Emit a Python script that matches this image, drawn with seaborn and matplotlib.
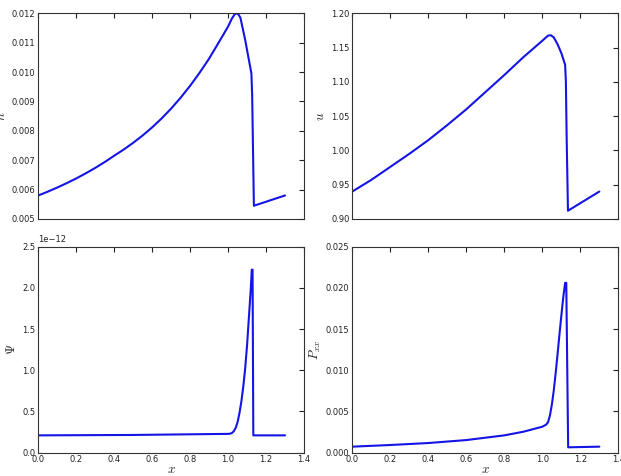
import numpy as np
import pandas as pd
import matplotlib
matplotlib.use("Agg")
import matplotlib.pyplot as plt
import seaborn as sns

# ---- data ----
x_n = [0.0, 0.05, 0.1, 0.15, 0.2, 0.25, 0.3, 0.35, 0.4, 0.45, 0.5, 0.55, 0.6, 0.65, 0.7, 0.75,
       0.8, 0.85, 0.9, 0.95, 1.0, 1.02, 1.035, 1.045, 1.055, 1.065, 1.09, 1.123, 1.127, 1.136, 1.3]
n_vals = [0.005800, 0.005930, 0.006070, 0.006220, 0.006380, 0.006553, 0.006738, 0.006938, 0.007153,
          0.007363, 0.007593, 0.007843, 0.008118, 0.008423, 0.008758, 0.009128, 0.009533, 0.009978,
          0.010458, 0.011000, 0.011550, 0.011820, 0.011970, 0.012000, 0.011960, 0.011850, 0.011100,
          0.009950, 0.009200, 0.005450, 0.005800]

x_u = [0.0, 0.1, 0.2, 0.3, 0.4, 0.5, 0.6, 0.7, 0.8, 0.9, 1.0, 1.03, 1.045, 1.06, 1.08, 1.10, 1.12,
       1.124, 1.128, 1.135, 1.3]
u_vals = [0.940, 0.957, 0.976, 0.995, 1.015, 1.037, 1.060, 1.085, 1.110, 1.136, 1.160, 1.1675, 1.168,
          1.165, 1.155, 1.142, 1.125, 1.100, 1.020, 0.912, 0.940]

x_psi = [0.0, 0.5, 1.0, 1.01, 1.02, 1.03, 1.04, 1.05, 1.06, 1.07, 1.08, 1.09, 1.10, 1.11, 1.12,
         1.125, 1.129, 1.133, 1.3]
psi_vals = [0.21e-12, 0.215e-12, 0.228e-12, 0.230e-12, 0.238e-12, 0.26e-12, 0.30e-12, 0.37e-12,
            0.48e-12, 0.62e-12, 0.80e-12, 1.02e-12, 1.30e-12, 1.65e-12, 2.0e-12, 2.22e-12, 2.22e-12,
            0.21e-12, 0.21e-12]

x_p = [0.0, 0.2, 0.4, 0.6, 0.8, 0.9, 1.0, 1.02, 1.03, 1.04, 1.05, 1.06, 1.07, 1.08, 1.09, 1.10,
       1.11, 1.12, 1.126, 1.136, 1.3]
p_vals = [0.00073, 0.00093, 0.00117, 0.00153, 0.0021, 0.00254, 0.00315, 0.0034, 0.0037, 0.0045,
          0.0058, 0.0075, 0.0096, 0.0119, 0.0143, 0.0166, 0.0188, 0.0206, 0.0206, 0.00065, 0.00073]

x_ticks = [0.0, 0.2, 0.4, 0.6, 0.8, 1.0, 1.2, 1.4]
n_ticks = [0.005, 0.006, 0.007, 0.008, 0.009, 0.010, 0.011, 0.012]
u_ticks = [0.90, 0.95, 1.00, 1.05, 1.10, 1.15, 1.20]
psi_ticks = [0.0, 0.5e-12, 1.0e-12, 1.5e-12, 2.0e-12, 2.5e-12]
p_ticks = [0.000, 0.005, 0.010, 0.015, 0.020, 0.025]

# ---- style ----
sns.set_style("white")
plt.rcParams.update({
    "font.family": ["DejaVu Sans"],
    "mathtext.fontset": "cm",
    "xtick.direction": "in",
    "ytick.direction": "in",
    "xtick.top": True,
    "ytick.right": True,
    "xtick.major.size": 3.5,
    "ytick.major.size": 3.5,
    "xtick.labelsize": 6,
    "ytick.labelsize": 6,
    "xtick.color": "#222222",
    "ytick.color": "#222222",
    "axes.edgecolor": "#333333",
    "axes.linewidth": 0.8,
    "axes.unicode_minus": True,
})

fig = plt.figure(figsize=(6.21, 4.76), dpi=100)
pos = {
    "tl": [0.0617, 0.540, 0.4278, 0.432],
    "tr": [0.5673, 0.540, 0.4284, 0.432],
    "bl": [0.0617, 0.049, 0.4278, 0.433],
    "br": [0.5673, 0.049, 0.4284, 0.433],
}
line_color = "#1414e6"
lw = 1.5

panels = [
    ("tl", x_n, n_vals, n_ticks, (0.005, 0.012), r"$n$", -0.114, False),
    ("tr", x_u, u_vals, u_ticks, (0.90, 1.20), r"$u$", -0.095, False),
    ("bl", x_psi, psi_vals, psi_ticks, (0.0, 2.5e-12), r"$\Psi$", -0.076, True),
    ("br", x_p, p_vals, p_ticks, (0.0, 0.025), r"$P_{xx}$", -0.11, True),
]

for key, xs, ys, yt, ylim, ylab, labx, bottom in panels:
    ax = fig.add_axes(pos[key])
    df = pd.DataFrame({"x": xs, "y": ys})
    sns.lineplot(data=df, x="x", y="y", ax=ax, color=line_color, linewidth=lw,
                 estimator=None, sort=False)
    ax.set_xlim(0.0, 1.4)
    ax.set_ylim(*ylim)
    ax.set_xticks(x_ticks)
    ax.set_yticks(yt)
    ax.set_ylabel(ylab, fontsize=9.5)
    ax.yaxis.set_label_coords(labx, 0.5)
    if bottom:
        ax.set_xlabel(r"$x$", fontsize=9.5)
        ax.xaxis.set_label_coords(0.5, -0.05)
    else:
        ax.set_xlabel("")
        ax.tick_params(axis="x", labelbottom=False)
    ax.tick_params(axis="both", which="major", pad=2)
    ax.yaxis.get_offset_text().set_fontsize(6)

fig.savefig("out.png", dpi=100)
